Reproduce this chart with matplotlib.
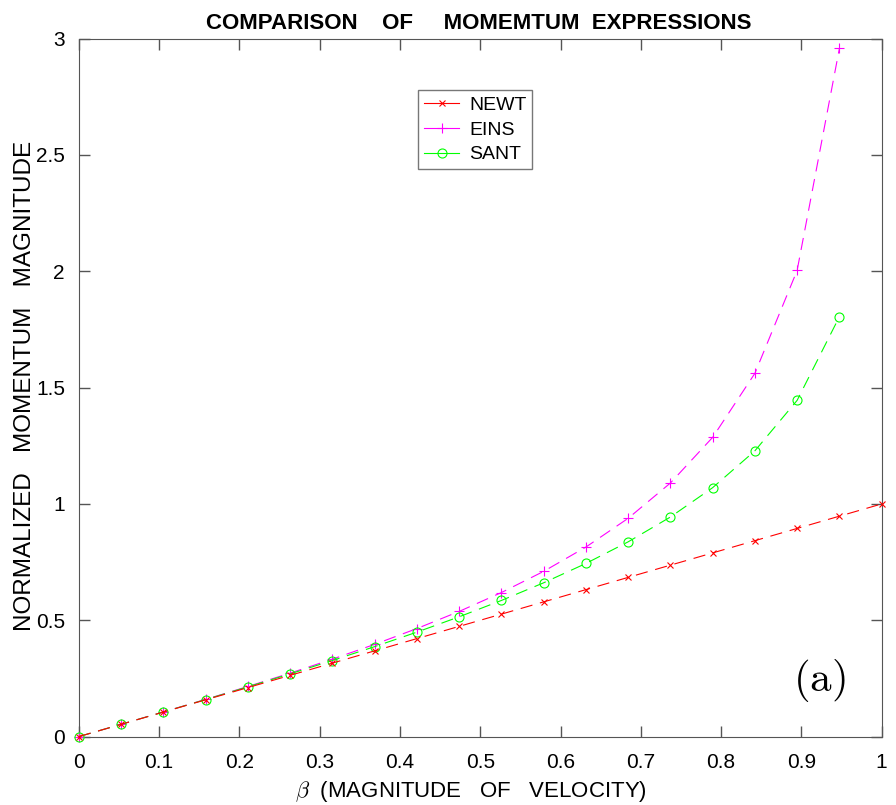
import numpy as np
import matplotlib.pyplot as plt
from matplotlib.lines import Line2D

plt.rcParams['font.family'] = ['Liberation Sans', 'DejaVu Sans']
plt.rcParams['mathtext.fontset'] = 'cm'

beta = [0.0, 0.0526, 0.1053, 0.1579, 0.2105, 0.2632, 0.3158, 0.3684, 0.4211, 0.4737,
        0.5263, 0.5789, 0.6316, 0.6842, 0.7368, 0.7895, 0.8421, 0.8947, 0.9474, 1.0]
newt = [0.0, 0.0526, 0.1053, 0.1579, 0.2105, 0.2632, 0.3158, 0.3684, 0.4211, 0.4737,
        0.5263, 0.5789, 0.6316, 0.6842, 0.7368, 0.7895, 0.8421, 0.8947, 0.9474, 1.0]
eins = [0.0, 0.0527, 0.1059, 0.1599, 0.2153, 0.2728, 0.3328, 0.3963, 0.4643, 0.5379,
        0.6190, 0.7100, 0.8146, 0.9381, 1.0898, 1.2863, 1.5614, 2.0036, 2.9588]
sant = [0.0, 0.0527, 0.1057, 0.1592, 0.2137, 0.2695, 0.3270, 0.3866, 0.4490, 0.5148,
        0.5850, 0.6609, 0.7441, 0.8370, 0.9436, 1.0700, 1.2283, 1.4452, 1.8050]
xticks = [0, 0.1, 0.2, 0.3, 0.4, 0.5, 0.6, 0.7, 0.8, 0.9, 1]
xtick_labels = ['0', '0.1', '0.2', '0.3', '0.4', '0.5', '0.6', '0.7', '0.8', '0.9', '1']
yticks = [0, 0.5, 1, 1.5, 2, 2.5, 3]
ytick_labels = ['0', '0.5', '1', '1.5', '2', '2.5', '3']

fig = plt.figure(figsize=(8.96, 8.05), dpi=100)
ax = fig.add_axes([0.088, 0.085, 0.896, 0.867])

dash = (0, (11, 7))
lw = 0.8
ax.plot(beta, newt, color='red', linestyle=dash, linewidth=lw, marker='x',
        markersize=4.5, markeredgewidth=0.8, zorder=4, clip_on=False)
ax.plot(beta[:19], eins, color='magenta', linestyle=dash, linewidth=lw, marker='+',
        markersize=7, markeredgewidth=0.8, zorder=3, clip_on=False)
ax.plot(beta[:19], sant, color='lime', linestyle=dash, linewidth=lw, marker='o',
        markersize=6.5, markeredgewidth=0.8, markerfacecolor='none', zorder=3, clip_on=False)

ax.set_xlim(0, 1)
ax.set_ylim(0, 3)
ax.set_xticks(xticks)
ax.set_xticklabels(xtick_labels)
ax.set_yticks(yticks)
ax.set_yticklabels(ytick_labels)
ax.tick_params(direction='in', top=True, right=True, labelsize=15, length=8,
               color='#555555', width=1)
ax.tick_params(axis='x', pad=12)
ax.tick_params(axis='y', pad=10)
for s in ax.spines.values():
    s.set_color('#555555')

ax.set_title('COMPARISON    OF     MOMEMTUM  EXPRESSIONS', fontsize=16,
             fontweight='bold', x=0.498, y=1.0143, pad=0)
ax.set_xlabel(r'$\beta$  (MAGNITUDE   OF   VELOCITY)', fontsize=16)
ax.xaxis.set_label_coords(0.488, -0.061)
ax.set_ylabel('NORMALIZED   MOMENTUM   MAGNITUDE', fontsize=17.5)
ax.yaxis.set_label_coords(-0.053, 0.503)

handles = [
    Line2D([], [], color='red', linewidth=lw, marker='x', markersize=4.5, markeredgewidth=0.8),
    Line2D([], [], color='magenta', linewidth=lw, marker='+', markersize=7, markeredgewidth=0.8),
    Line2D([], [], color='lime', linewidth=lw, marker='o', markersize=6.5,
           markeredgewidth=0.8, markerfacecolor='none'),
]
leg = ax.legend(handles, ['NEWT', 'EINS', 'SANT'], loc='upper left',
                bbox_to_anchor=(0.423, 0.926), borderaxespad=0, fontsize=14,
                fancybox=False, edgecolor='#555555', handlelength=1.8,
                borderpad=0.3, labelspacing=0.37, handletextpad=0.5)
leg.get_frame().set_linewidth(1)

ax.text(0.955, 0.080, r'$\mathrm{(a)}$', transform=ax.transAxes, fontsize=31,
        ha='right', va='center')

fig.savefig('out.png', dpi=100)
